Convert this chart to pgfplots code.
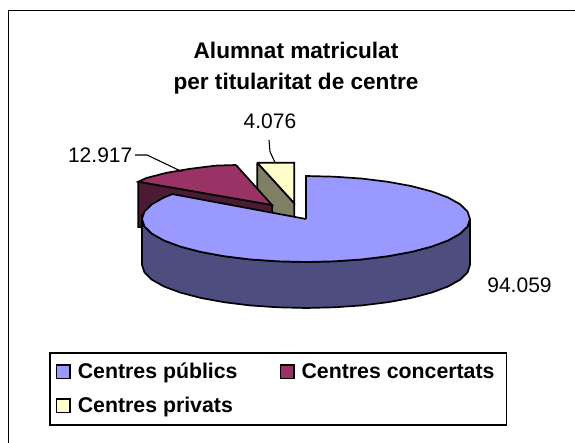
\documentclass[border=0pt]{standalone}
\usepackage{pgfplots}
\pgfplotsset{compat=1.18}
\usepackage{fontspec}
\setmainfont{Liberation Sans}
\definecolor{cblue}{HTML}{9999FF}
\definecolor{cblued}{HTML}{4D4D80}
\definecolor{cmar}{HTML}{993366}
\definecolor{cmard}{HTML}{4D1A33}
\definecolor{cyel}{HTML}{FFFFCC}
\definecolor{cyeld}{HTML}{808066}
\begin{document}
\begin{tikzpicture}[x=1pt,y=1pt]
\begin{axis}[
  at={(0,0)}, anchor=south west,
  scale only axis, width=575pt, height=443pt,
  xmin=0, xmax=575, ymin=0, ymax=443, y dir=reverse,
  hide axis, clip=false,
  legend cell align=left,
  legend columns=2,
  legend style={at={(axis cs:49,352)}, anchor=north west, draw=black, line width=1.6pt,
    font=\bfseries\fontsize{21.3}{24}\selectfont, inner xsep=6pt, inner ysep=8.5pt, row sep=13pt,
    /tikz/every odd column/.append style={column sep=5pt},
    /tikz/every even column/.append style={column sep=40pt}},
  legend image code/.code={\draw[#1, draw=black, line width=1.5pt] (0pt,-6.5pt) rectangle (13.5pt,7pt);},
]
\path[use as bounding box] (axis cs:0,0) rectangle (axis cs:575,443);
\addlegendimage{fill=cblue}\addlegendentry{Centres públics}
\addlegendimage{fill=cmar}\addlegendentry{Centres concertats\kern4pt}
\addlegendimage{fill=cyel}\addlegendentry{Centres privats}
% frame: only the top and left edges fall inside the picture
\addplot[forget plot, black, line width=1pt] coordinates {(575,11) (8,11) (8,443)};
% olive + yellow
\addplot[forget plot, fill=cyeld, draw=black, line width=1.7pt] coordinates {(257.3,162.7) (294.3,203.3) (294.3,240) (257.3,240) (257.3,162.7)};
\addplot[forget plot, fill=cyel, draw=black, line width=1.7pt] coordinates {(257.3,162.7) (294.3,162.7) (294.3,203.3) (257.3,162.7)};
% maroon
\addplot[forget plot, fill=cmard, draw=black, line width=1.7pt] coordinates {(138.3,181.7) (272,205) (273,240) (138.3,227) (138.3,181.7)};
\addplot[forget plot, fill=cmar, draw=black, line width=1.7pt] coordinates {(236,165) (215.9,165.6) (190,168.8) (166.6,172.8) (146.4,178) (138.3,181.7) (272,205) (236,165)};
% blue side
\addplot[forget plot, fill=cblued, draw=black, line width=1.7pt] coordinates {(470,219) (467.5,226.5) (460.1,233.7) (448,240.5) (431.6,246.6) (411.4,251.9) (388,256.2) (362.1,259.4) (334.5,261.3) (306,262) (277.5,261.3) (249.9,259.4) (224,256.2) (200.6,251.9) (180.4,246.6) (164,240.5) (151.9,233.7) (144.5,226.5) (142,219)
 (142,265) (144.5,272.5) (151.9,279.7) (164,286.5) (180.4,292.6) (200.6,297.9) (224,302.2) (249.9,305.4) (277.5,307.3) (306,308) (334.5,307.3) (362.1,305.4) (388,302.2) (411.4,297.9) (431.6,292.6) (448,286.5) (460.1,279.7) (467.5,272.5) (470,265) (470,219)};
% blue top
\addplot[forget plot, fill=cblue, draw=black, line width=1.7pt] coordinates {(306,219) (306,176) (334.5,176.7) (362.1,178.6) (388,181.8) (411.4,186.1) (431.6,191.4) (448,197.5) (460.1,204.3) (467.5,211.5) (470,219) (467.5,226.5) (460.1,233.7) (448,240.5) (431.6,246.6) (411.4,251.9) (388,256.2) (362.1,259.4) (334.5,261.3) (306,262) (277.5,261.3) (249.9,259.4) (224,256.2) (200.6,251.9) (180.4,246.6) (164,240.5) (151.9,233.7) (144.5,226.5) (142,219) (144.5,211.5) (151.9,204.3) (164,197.5) (172.3,194.1) (306,219)};
% leaders
\addplot[forget plot, black, line width=1.1pt] coordinates {(135,155) (147,155) (181.7,171.5)};
\addplot[forget plot, black, line width=1.1pt] coordinates {(269,140) (270,151.7) (275,162.5)};
% labels
\node[font=\bfseries\fontsize{22.6}{31.5}\selectfont, align=center] at (axis cs:296,68) {Alumnat matriculat\\per titularitat de centre};
\node[font=\fontsize{21}{24}\selectfont, anchor=east, inner sep=0pt] at (axis cs:132.5,155.7) {12.917};
\node[font=\fontsize{21}{24}\selectfont] at (axis cs:270,121.7) {4.076};
\node[font=\fontsize{21}{24}\selectfont] at (axis cs:519.5,285) {94.059};
\end{axis}
\end{tikzpicture}
\end{document}
